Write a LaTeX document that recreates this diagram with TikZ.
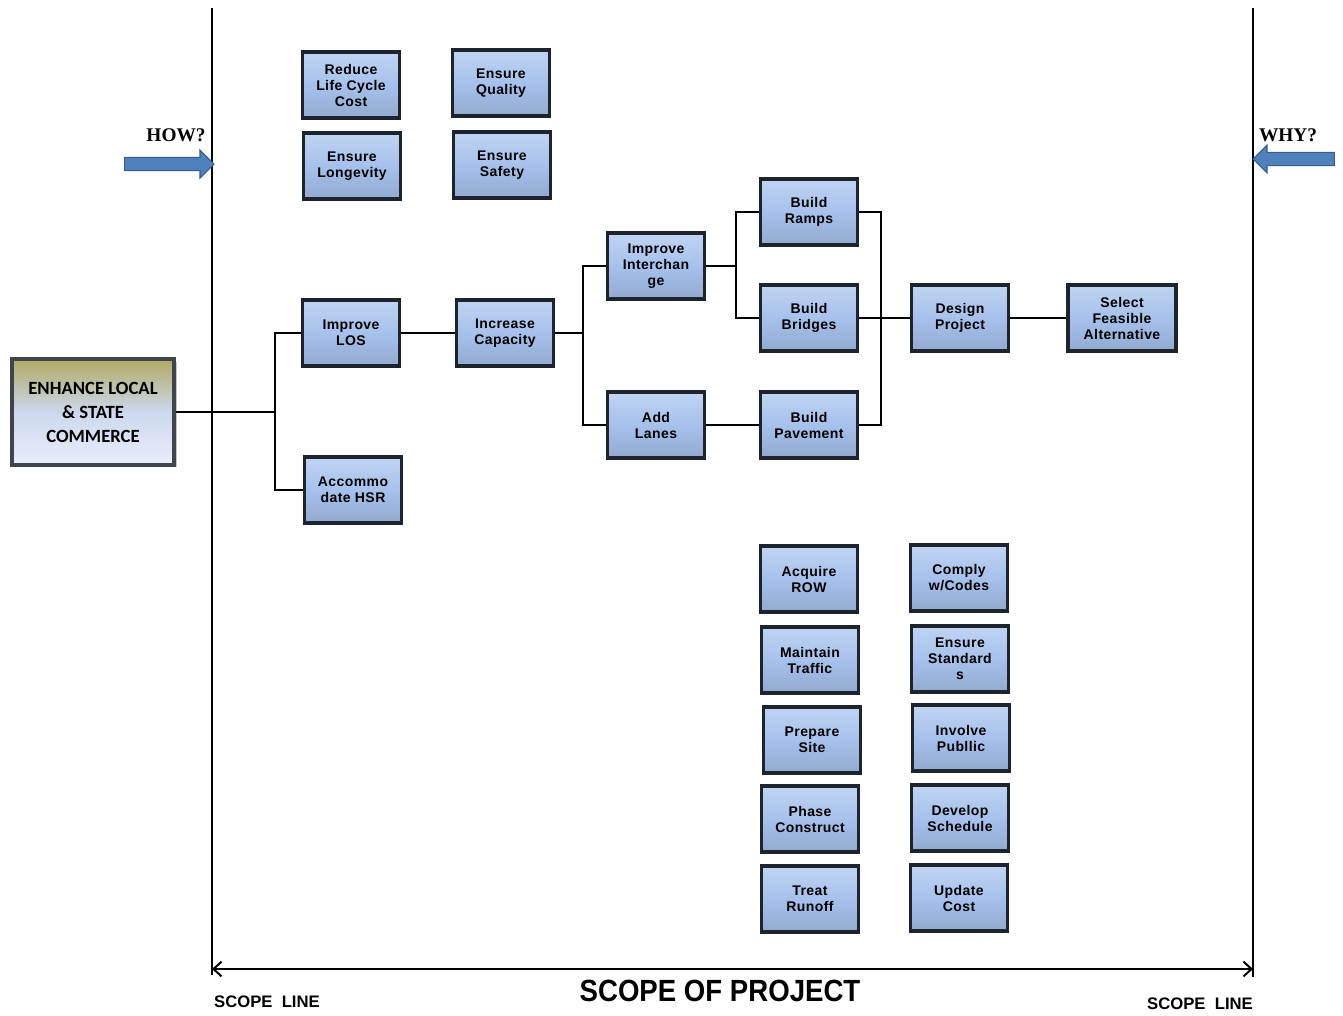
\documentclass[tikz,border=0pt]{standalone}
\usepackage{fontspec}
\setmainfont{Liberation Sans}
\newfontfamily\boxfont[LetterSpace=3]{Liberation Sans}
\newfontfamily\goalfont{Carlito}
\newfontfamily\askfont{Liberation Serif}
\usepackage{xcolor}
\definecolor{BoxBlue}{RGB}{166, 193, 236}
\definecolor{BoxEdge}{RGB}{30, 36, 46}
\definecolor{GoalTop}{RGB}{176, 170, 100}
\definecolor{GoalMid}{RGB}{205, 216, 238}
\definecolor{GoalBottom}{RGB}{232, 238, 252}
\definecolor{ArrowBlue}{RGB}{79, 129, 189}
\definecolor{ArrowEdge}{RGB}{56, 93, 138}
\usepackage{tikz}
\usetikzlibrary{shapes.arrows, arrows.meta, shadows}

\begin{document}
\begin{tikzpicture}[
        x=0.75pt, y=-0.75pt,
        fn/.style={draw=BoxEdge, line width=2.6pt,
                   top color=BoxBlue!70!white, bottom color=BoxBlue!88!black, middle color=BoxBlue,
                   minimum width=72.5pt, minimum height=49.5pt, inner sep=1pt,
                   font=\boxfont\bfseries\fontsize{10.5}{12}\selectfont, align=center,
                   drop shadow={shadow xshift=1.6pt, shadow yshift=-1.6pt, opacity=.45}},
        goal/.style={draw=BoxEdge!85, line width=2.8pt,
                   top color=GoalTop, bottom color=GoalBottom, middle color=GoalMid,
                   minimum width=122pt, minimum height=79pt,
                   font=\goalfont\bfseries\fontsize{14}{18}\selectfont, align=center,
                   drop shadow={shadow xshift=1.8pt, shadow yshift=-1.8pt, opacity=.45}},
        blockarrow/.style={single arrow, draw=ArrowEdge, fill=ArrowBlue, line width=0.8pt,
                   inner sep=4.6pt, single arrow head extend=5.5pt},
        ask/.style={font=\askfont\bfseries\fontsize{14.5}{16}\selectfont},
        link/.style={line width=1.6pt, black},
        scope/.style={line width=1.5pt, black},
        span/.style={{Straight Barb[length=6pt, width=11pt]}-{Straight Barb[length=6pt, width=11pt]}, line width=1.5pt}
    ]
        \useasboundingbox (0,0) rectangle (1343,1015);

        % scope lines
        \coordinate (leftTop) at (212,8);
        \coordinate (leftBottom) at (212,975);
        \coordinate (rightTop) at (1253,8);
        \coordinate (rightBottom) at (1253,977);
        \draw[scope] (leftTop) -- (leftBottom);
        \draw[scope] (rightTop) -- (rightBottom);
        \coordinate (spanLeft) at (212,969);
        \coordinate (spanRight) at (1253,969);
        \draw[span] (spanLeft) -- (spanRight);

        \node[font=\bfseries\fontsize{12.5}{14}\selectfont] (scopeLeft) at (267,1002) {SCOPE\ \ LINE};
        \node[font=\bfseries\fontsize{12.5}{14}\selectfont] (scopeRight) at (1200,1004) {SCOPE\ \ LINE};
        \node[font=\bfseries\fontsize{23}{26}\selectfont] (scopeTitle) at (720,991) {\scalebox{0.9}[1]{SCOPE OF PROJECT}};

        % how / why
        \node[ask] (how) at (176,135) {HOW?};
        \node[ask] (why) at (1288,135) {WHY?};
        \node[blockarrow, minimum height=67pt] (howArrow) at (166,164) {};
        \node[blockarrow, minimum height=61pt, shape border rotate=180] (whyArrow) at (1297,159) {};

        % function boxes
        \node[goal] (commerce) at (93,412) {ENHANCE LOCAL\\\& STATE\\COMMERCE};

        \node[fn] (lifecycle) at (351,85) {Reduce\\Life Cycle\\Cost};
        \node[fn] (quality) at (501,83) {Ensure\\Quality};
        \node[fn] (longevity) at (352,166) {Ensure\\Longevity};
        \node[fn] (safety) at (502,165) {Ensure\\Safety};

        \node[fn] (los) at (351,333) {Improve\\LOS};
        \node[fn] (hsr) at (353,490) {Accommo\\date HSR};
        \node[fn] (capacity) at (505,333) {Increase\\Capacity};
        \node[fn] (interchange) at (656,266) {Improve\\Interchan\\ge};
        \node[fn] (lanes) at (656,425) {Add\\Lanes};
        \node[fn] (ramps) at (809,212) {Build\\Ramps};
        \node[fn] (bridges) at (809,318) {Build\\Bridges};
        \node[fn] (pavement) at (809,425) {Build\\Pavement};
        \node[fn] (design) at (960,318) {Design\\Project};
        \node[fn, minimum width=81pt] (feasible) at (1122,318) {Select\\Feasible\\Alternative};

        \node[fn] (row) at (809,579) {Acquire\\ROW};
        \node[fn] (traffic) at (810,660) {Maintain\\Traffic};
        \node[fn] (site) at (812,740) {Prepare\\Site};
        \node[fn] (phase) at (810,819) {Phase\\Construct};
        \node[fn] (runoff) at (810,899) {Treat\\Runoff};
        \node[fn] (codes) at (959,578) {Comply\\w/Codes};
        \node[fn] (standards) at (960,659) {Ensure\\Standard\\s};
        \node[fn] (public) at (961,738) {Involve\\Publlic};
        \node[fn] (schedule) at (960,818) {Develop\\Schedule};
        \node[fn] (cost) at (959,898) {Update\\Cost};

        % connectors
        \draw[link] (commerce.east) -- ++(99,0) coordinate (hubA);
        \draw[link] (hubA) |- (los);
        \draw[link] (hubA) |- (hsr);
        \draw[link] (los) -- (capacity);
        \draw[link] (capacity.east) -- ++(28,0) coordinate (hubB);
        \draw[link] (hubB) |- (interchange);
        \draw[link] (hubB) |- (lanes);
        \draw[link] (interchange.east) -- ++(30,0) coordinate (hubC);
        \draw[link] (hubC) |- (ramps);
        \draw[link] (hubC) |- (bridges);
        \draw[link] (lanes) -- (pavement);
        \draw[link] (ramps.east) -- ++(22,0) coordinate (hubD) -- (hubD |- pavement.east) -- (pavement.east);
        \draw[link] (bridges) -- (design);
        \draw[link] (design) -- (feasible);
    \end{tikzpicture}
\end{document}
